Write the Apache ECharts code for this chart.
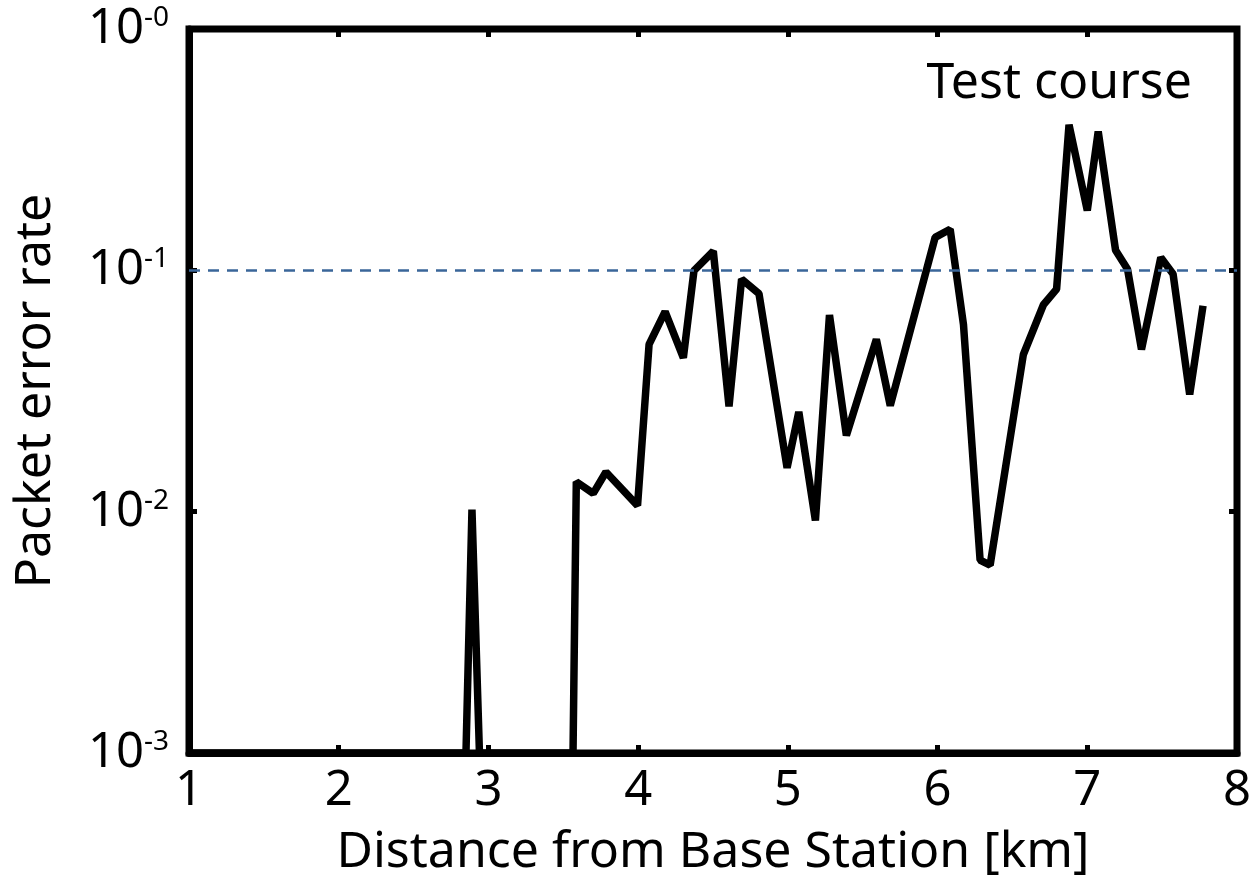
<!DOCTYPE html>
<html>
<head>
<meta charset="utf-8">
<script src="https://cdn.jsdelivr.net/npm/echarts@6/dist/echarts.min.js"></script>
<style>
html, body { margin: 0; padding: 0; background: #fff; }
#main { width: 1252px; height: 879px; }
</style>
</head>
<body>
<div id="main"></div>
<script>
var FONT = 'Noto Sans';

// distance from base station [km]
var distance = [1.0, 2.85, 2.89, 2.94, 3.565, 3.587, 3.70, 3.785, 3.996, 4.073, 4.18, 4.302, 4.373,
    4.502, 4.607, 4.691, 4.807, 4.995, 5.073, 5.184, 5.278, 5.391, 5.591, 5.684, 5.984,
    6.084, 6.173, 6.284, 6.351, 6.573, 6.707, 6.795, 6.878, 7.0, 7.073, 7.189, 7.269,
    7.362, 7.491, 7.573, 7.684, 7.773];
// packet error rate
var errorRate = [0.001, 0.001, 0.0102, 0.001, 0.001, 0.0133, 0.0119, 0.0146, 0.0106, 0.0493, 0.0675, 0.0434, 0.0998,
    0.12, 0.0273, 0.092, 0.080, 0.0152, 0.0259, 0.0092, 0.0653, 0.0207, 0.0518, 0.0275, 0.137,
    0.148, 0.0597, 0.0063, 0.0060, 0.0448, 0.072, 0.0836, 0.401, 0.177, 0.376, 0.121, 0.101,
    0.047, 0.113, 0.0966, 0.0306, 0.0713];
var threshold = 0.1;
var xTicks = [1, 8, 1];
var yRange = [0.001, 1];

var data = distance.map(function (d, i) { return [d, errorRate[i]]; });

var myChart = echarts.init(document.getElementById('main'));

var tickStyle = { show: true, inside: true, length: 8, lineStyle: { color: '#000', width: 5 } };

var option = {
    animation: false,
    backgroundColor: '#fff',
    grid: {
        left: 189, right: 15, top: 29, bottom: 126,
        outerBoundsMode: 'none',
        show: true, borderColor: '#000', borderWidth: 7
    },
    graphic: [{
        type: 'text',
        right: 60,
        top: 59,
        style: { text: 'Test course', fontFamily: FONT, fontSize: 50, fill: '#000' }
    }],
    xAxis: [{
        type: 'value',
        min: xTicks[0], max: xTicks[1], interval: xTicks[2],
        name: 'Distance from Base Station [km]',
        nameLocation: 'middle',
        nameGap: 75,
        nameTextStyle: { fontFamily: FONT, fontSize: 50, color: '#000' },
        axisLine: { show: true, lineStyle: { color: '#000', width: 7 } },
        axisTick: tickStyle,
        axisLabel: { fontFamily: FONT, fontSize: 49, color: '#000', margin: 14 },
        splitLine: { show: false }
    }, {
        type: 'value', position: 'top',
        min: xTicks[0], max: xTicks[1], interval: xTicks[2],
        axisLine: { show: false },
        axisTick: tickStyle,
        axisLabel: { show: false },
        splitLine: { show: false }
    }],
    yAxis: [{
        type: 'log', logBase: 10,
        min: yRange[0], max: yRange[1],
        name: 'Packet error rate',
        nameLocation: 'middle',
        nameGap: 128,
        nameTextStyle: { fontFamily: FONT, fontSize: 50, color: '#000' },
        axisLine: { show: true, lineStyle: { color: '#000', width: 7 } },
        axisTick: tickStyle,
        axisLabel: {
            margin: 20,
            formatter: function (v) {
                var e = Math.round(Math.log(v) / Math.LN10);
                return '{b|10}{s|-' + Math.abs(e) + '}';
            },
            rich: {
                b: { fontFamily: FONT, fontSize: 49, color: '#000' },
                s: { fontFamily: FONT, fontSize: 28, color: '#000', verticalAlign: 'top', padding: [0, 0, 22, 0] }
            }
        },
        splitLine: { show: false }
    }, {
        type: 'log', logBase: 10, position: 'right',
        min: yRange[0], max: yRange[1],
        axisLine: { show: false },
        axisTick: tickStyle,
        axisLabel: { show: false },
        splitLine: { show: false }
    }],
    series: [{
        type: 'line',
        data: data,
        symbol: 'none',
        clip: true,
        lineStyle: { color: '#000', width: 7.5 },
        markLine: {
            silent: true,
            symbol: 'none',
            label: { show: false },
            lineStyle: { color: '#3a6699', width: 2.5, type: [11, 8] },
            data: [{ yAxis: threshold }]
        },
        z: 3
    }]
};

myChart.setOption(option);
</script>
</body>
</html>
